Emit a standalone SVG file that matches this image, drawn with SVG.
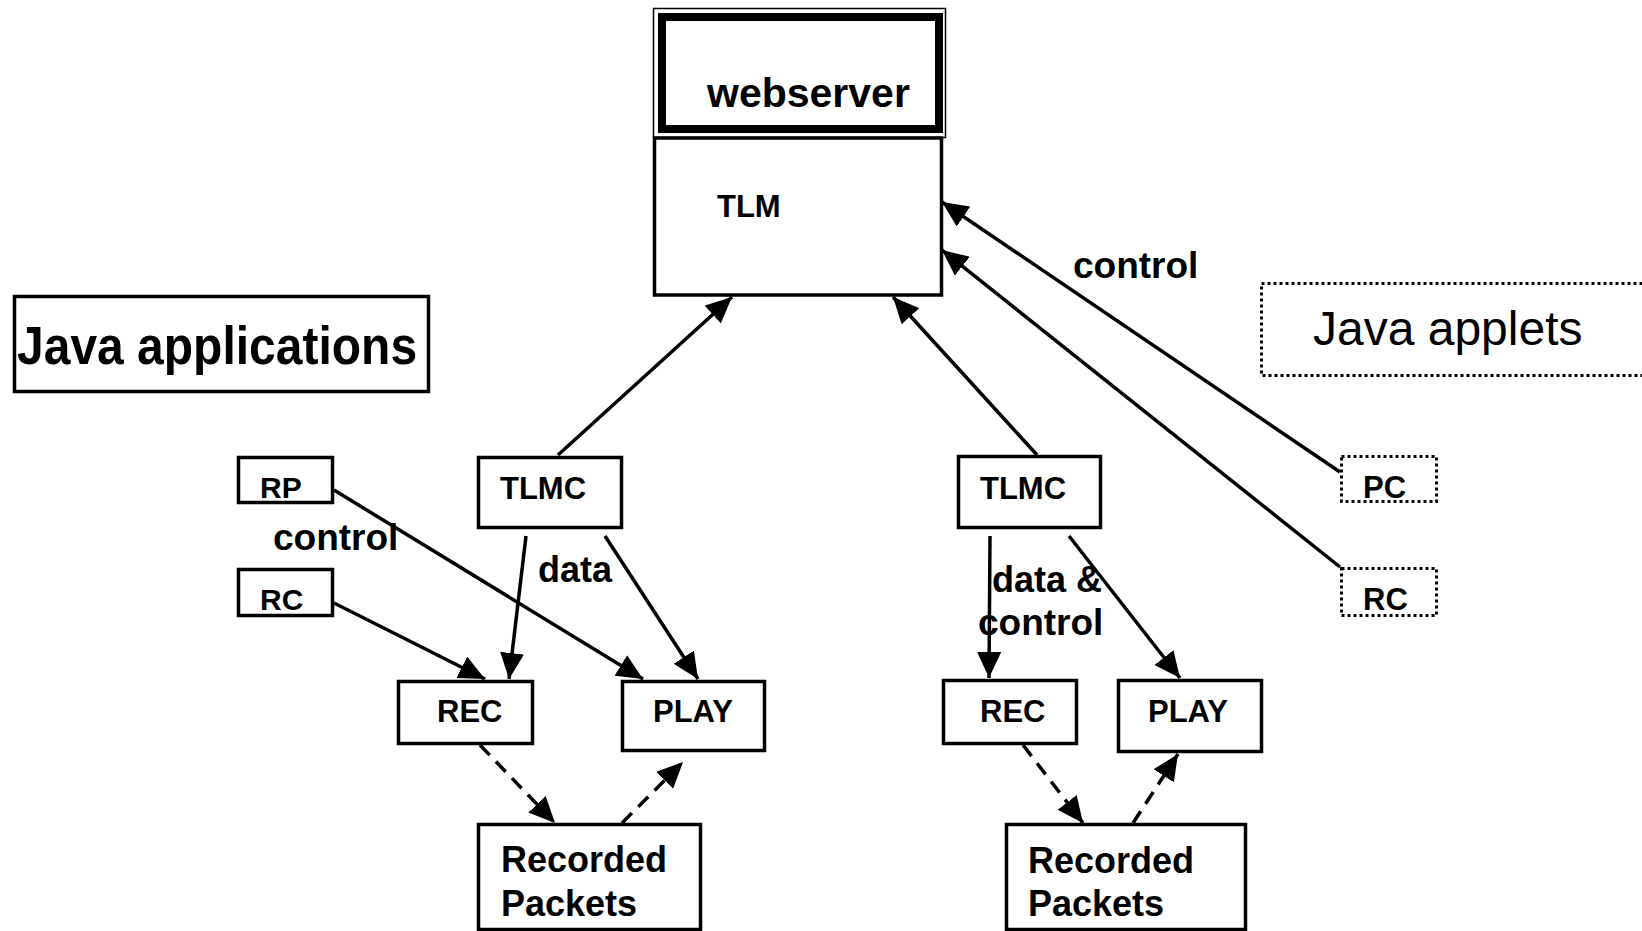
<svg xmlns="http://www.w3.org/2000/svg" width="1642" height="931" viewBox="0 0 1642 931">
  <style>
    .box { fill: #ffffff; stroke: #000000; stroke-width: 3.5; }
    .dot { fill: #ffffff; stroke: #000000; stroke-width: 3; stroke-dasharray: 3 3; }
    .edge { fill: none; stroke: #000000; stroke-width: 3.5; marker-end: url(#arrow); }
    .dash { stroke-dasharray: 14 9; }
    text { font-family: "Liberation Sans", Arial, Helvetica, sans-serif; font-weight: bold; fill: #000000; }
    .reg { font-weight: normal; }
  </style>
  <defs>
    <marker id="arrow" markerUnits="userSpaceOnUse" markerWidth="26" markerHeight="24" viewBox="0 0 26 24" refX="26" refY="12" orient="auto">
      <path d="M0,0 L26,12 L0,24 z" fill="#000000"/>
    </marker>
  </defs>
  <rect x="0" y="0" width="1642" height="931" fill="#ffffff"/>

  <!-- connectors -->
  <g id="connectors">
    <line class="edge" x1="558" y1="455" x2="732" y2="297"/>
    <line class="edge" x1="1037" y1="455" x2="893" y2="297"/>
    <line class="edge" x1="1340" y1="472" x2="942" y2="202"/>
    <line class="edge" x1="1340" y1="567" x2="942" y2="250"/>
    <line class="edge" x1="334" y1="490" x2="643" y2="679"/>
    <line class="edge" x1="334" y1="603" x2="485" y2="679"/>
    <line class="edge" x1="526" y1="536" x2="509" y2="679"/>
    <line class="edge" x1="605" y1="536" x2="698" y2="679"/>
    <line class="edge" x1="990" y1="536" x2="989" y2="678"/>
    <line class="edge" x1="1069" y1="536" x2="1180" y2="678"/>
    <line class="edge dash" x1="480" y1="745" x2="555" y2="823"/>
    <line class="edge dash" x1="622" y1="823" x2="683" y2="762"/>
    <line class="edge dash" x1="1023" y1="745" x2="1083" y2="823"/>
    <line class="edge dash" x1="1133" y1="823" x2="1178" y2="754"/>
  </g>

  <!-- web server stacked on the TLM -->
  <g id="webserver">
    <rect x="653.5" y="8.5" width="292" height="129" fill="#ffffff" stroke="#000000" stroke-width="1.5"/>
    <rect x="662" y="17" width="277" height="112" fill="#ffffff" stroke="#000000" stroke-width="8"/>
    <text x="707" y="107" font-size="41">webserver</text>
  </g>
  <g id="tlm">
    <rect class="box" x="654.5" y="138" width="287" height="157"/>
    <text x="717" y="217" font-size="31">TLM</text>
  </g>

  <g id="java-applications">
    <rect class="box" x="14.5" y="296.5" width="414" height="95"/>
    <text transform="translate(17,364) scale(1,1.12)" font-size="48">Java applications</text>
  </g>
  <g id="java-applets">
    <rect class="dot" x="1261.5" y="283.5" width="400" height="92"/>
    <text class="reg" x="1313" y="345" font-size="48">Java applets</text>
  </g>

  <!-- left side: applications -->
  <g id="rp">
    <rect class="box" x="238.5" y="457.5" width="94" height="45"/>
    <text x="260" y="498" font-size="30">RP</text>
  </g>
  <g id="rc-app">
    <rect class="box" x="238.5" y="569.5" width="94" height="46"/>
    <text x="260" y="610" font-size="30">RC</text>
  </g>
  <g id="tlmc-left">
    <rect class="box" x="478.5" y="457.5" width="143" height="70"/>
    <text x="500" y="499" font-size="31">TLMC</text>
  </g>
  <g id="rec-left">
    <rect class="box" x="398.5" y="681.5" width="134" height="62"/>
    <text x="437" y="722" font-size="31">REC</text>
  </g>
  <g id="play-left">
    <rect class="box" x="622.5" y="681.5" width="142" height="69"/>
    <text x="653" y="722" font-size="31">PLAY</text>
  </g>
  <g id="packets-left">
    <rect class="box" x="478.5" y="824.5" width="222" height="105"/>
    <text x="501" y="872" font-size="36">Recorded</text>
    <text x="501" y="916" font-size="36">Packets</text>
  </g>

  <!-- right side: applets -->
  <g id="tlmc-right">
    <rect class="box" x="958.5" y="456.5" width="142" height="71"/>
    <text x="980" y="499" font-size="31">TLMC</text>
  </g>
  <g id="rec-right">
    <rect class="box" x="943.5" y="680.5" width="133" height="63"/>
    <text x="980" y="722" font-size="31">REC</text>
  </g>
  <g id="play-right">
    <rect class="box" x="1118.5" y="680.5" width="143" height="71"/>
    <text x="1148" y="722" font-size="31">PLAY</text>
  </g>
  <g id="packets-right">
    <rect class="box" x="1006.5" y="824.5" width="239" height="105"/>
    <text x="1028" y="873" font-size="36">Recorded</text>
    <text x="1028" y="916" font-size="36">Packets</text>
  </g>
  <g id="pc">
    <rect class="dot" x="1341.5" y="456.5" width="95" height="45"/>
    <text x="1363" y="498" font-size="31">PC</text>
  </g>
  <g id="rc-applet">
    <rect class="dot" x="1341.5" y="568.5" width="95" height="47"/>
    <text x="1363" y="610" font-size="31">RC</text>
  </g>

  <!-- connector labels -->
  <g id="labels">
    <text x="1073" y="278" font-size="37">control</text>
    <text x="273" y="550" font-size="37">control</text>
    <text x="538" y="582" font-size="36">data</text>
    <text x="992" y="592" font-size="36">data &amp;</text>
    <text x="978" y="635" font-size="37">control</text>
  </g>
</svg>
